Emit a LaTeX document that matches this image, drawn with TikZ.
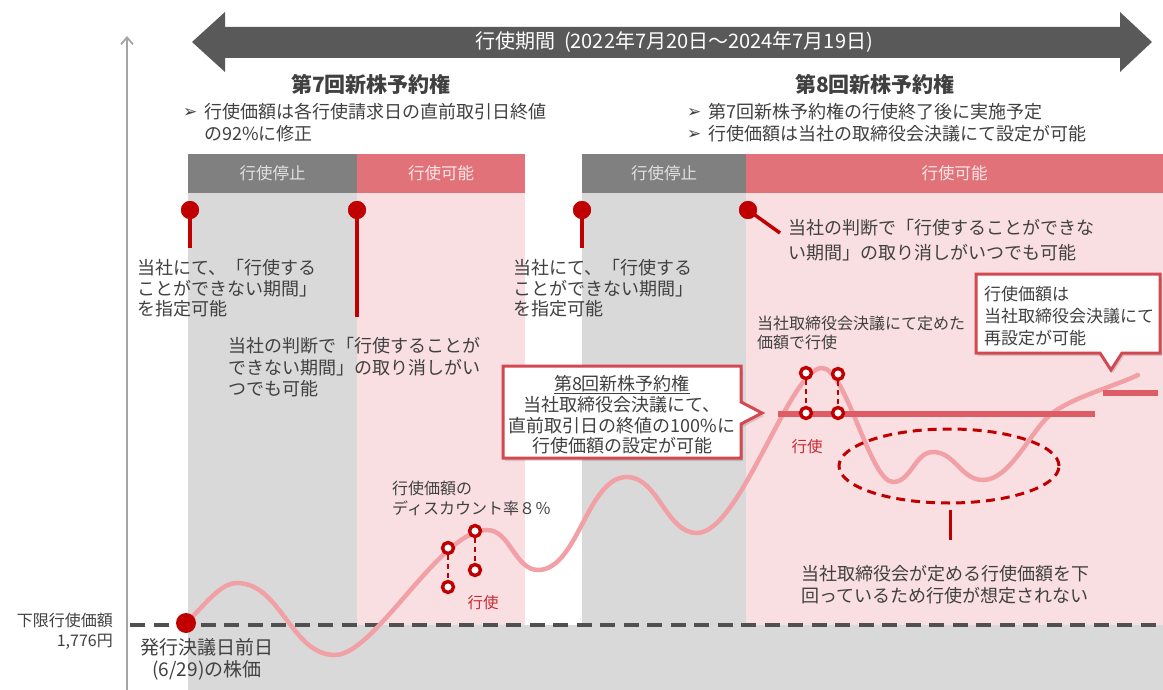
\documentclass[tikz,border=0pt]{standalone}
\usepackage{fontspec}
\setmainfont{Noto Sans CJK JP}
\newfontfamily\symfont{DejaVu Sans}
\usetikzlibrary{arrows.meta,shapes.geometric}
\definecolor{pinred}{RGB}{192,0,0}
\definecolor{callred}{RGB}{212,72,82}
\definecolor{lvlred}{RGB}{222,92,102}
\definecolor{curvec}{RGB}{241,160,166}
\definecolor{bargray}{RGB}{128,128,128}
\definecolor{barpink}{RGB}{226,114,121}
\definecolor{colgray}{RGB}{217,217,217}
\definecolor{colpink}{RGB}{249,223,225}
\definecolor{arrowc}{RGB}{89,89,89}
\definecolor{txtc}{RGB}{64,64,64}
\definecolor{dashc}{RGB}{80,80,80}
\definecolor{axisc}{RGB}{165,165,165}
\definecolor{lblred}{RGB}{200,40,50}
\begin{document}
\begin{tikzpicture}[x=1pt,y=-1pt,
 tx/.style={inner sep=0pt,text=txtc,font=\fontsize{18}{21}\selectfont,anchor=base west},
 txc/.style={tx,anchor=base},
 smalltx/.style={tx,font=\fontsize{16}{19}\selectfont},
 titletx/.style={inner sep=0pt,text=txtc,font=\fontsize{21}{24}\selectfont\bfseries,anchor=base},
 bulletmark/.style={inner sep=0pt,text=txtc,font=\symfont\fontsize{17}{18}\selectfont,anchor=west},
 barbox/.style={inner sep=0pt,minimum height=39pt,anchor=north west,font=\fontsize{16.5}{19}\selectfont},
 pinnode/.style={circle,fill=pinred,inner sep=0pt,minimum size=18pt},
 stemline/.style={pinred,line width=3.5pt},
 exnode/.style={circle,draw=pinred,fill=white,line width=3.4pt,inner sep=0pt,minimum size=11pt},
 exlink/.style={pinred,line width=2pt,dash pattern=on 5pt off 4pt},
 calloutline/.style={draw=callred,fill=white,line width=3pt,line join=miter},
 calloutshadow/.style={fill=black,opacity=0.13},
 redlabel/.style={inner sep=0pt,text=lblred,font=\fontsize{15.5}{18}\selectfont,anchor=base},
 curveline/.style={curvec,line width=4.5pt,line cap=round},
 lvlline/.style={lvlred,line width=5.5pt},
 dashline/.style={dashc,line width=4pt,dash pattern=on 15pt off 8.5pt}
]
\useasboundingbox (0,0) rectangle (1163,690);
% background columns
\fill[colgray] (188,193) rectangle (357,625);
\fill[colpink] (357,193) rectangle (525,625);
\fill[colgray] (582,193) rectangle (746,625);
\fill[colpink] (746,193) rectangle (1163,625);
\fill[colgray] (188,625) rectangle (1163,690);
% header bars
\node[barbox,fill=bargray,minimum width=169pt,text={rgb,255:red,225;green,225;blue,225}] (b1) at (188,154) {行使停止};
\node[barbox,fill=barpink,minimum width=168pt,text={rgb,255:red,252;green,230;blue,230}] (b2) at (357,154) {行使可能};
\node[barbox,fill=bargray,minimum width=164pt,text={rgb,255:red,225;green,225;blue,225}] (b3) at (582,154) {行使停止};
\node[barbox,fill=barpink,minimum width=417pt,text={rgb,255:red,252;green,230;blue,230}] (b4) at (746,154) {行使可能};
% axis
\coordinate (ax0) at (127,690);
\coordinate (ax1) at (127,36);
\draw[axisc,line width=1.8pt,-{Straight Barb[length=7pt,width=12pt]}] (ax0) -- (ax1);
% top double arrow
\fill[arrowc] (192,42) -- (225,12) -- (225,27) -- (1120,27) -- (1120,12) -- (1152,42) -- (1120,72) -- (1120,58) -- (225,58) -- (225,72) -- cycle;
\node[inner sep=0pt,text=white,font=\fontsize{20}{23}\selectfont,anchor=base] (period) at (674,49) {行使期間\ \ (2022年7月20日～2024年7月19日)};
% titles
\node[titletx] (t7) at (371,92.5) {第7回新株予約権};
\node[titletx] (t8) at (875,92.5) {第8回新株予約権};
\node[bulletmark] (m71) at (183,113) {➢};
\node[tx] (l71) at (204,119) {行使価額は各行使請求日の直前取引日終値};
\node[tx] (l72) at (204,141) {の92\%に修正};
\node[bulletmark] (m81) at (687,113) {➢};
\node[tx] (l81) at (708,119) {第7回新株予約権の行使終了後に実施予定};
\node[bulletmark] (m82) at (687,135) {➢};
\node[tx] (l82) at (708,141) {行使価額は当社の取締役会決議にて設定が可能};
% dashed floor line
\coordinate (d0) at (130,625);
\coordinate (d1) at (1163,625);
\draw[dashline] (d0) -- (d1);
% pins
\coordinate (p1e) at (190,248);
\coordinate (p2e) at (357,317);
\coordinate (p3e) at (582,248);
\coordinate (p4e) at (780,233);
\node[pinnode] (p1) at (190,210) {};
\node[pinnode] (p2) at (357,210) {};
\node[pinnode] (p3) at (582,210) {};
\node[pinnode] (p4) at (748,210) {};
\draw[stemline] (p1.center) -- (p1e);
\draw[stemline] (p2.center) -- (p2e);
\draw[stemline] (p3.center) -- (p3e);
\draw[stemline] (p4.center) -- (p4e);
\node[pinnode] at (p1) {};
\node[pinnode] at (p2) {};
\node[pinnode] at (p3) {};
\node[pinnode] at (p4) {};
% pin texts
\node[tx] (a1) at (137,274) {当社にて、「行使する};
\node[tx] (a2) at (137,295) {ことができない期間」};
\node[tx] (a3) at (137,315) {を指定可能};
\node[tx] (c1) at (228,352) {当社の判断で「行使することが};
\node[tx] (c2) at (228,374) {できない期間」の取り消しがい};
\node[tx] (c3) at (228,395) {つでも可能};
\node[tx] (e1) at (513,274) {当社にて、「行使する};
\node[tx] (e2) at (513,295) {ことができない期間」};
\node[tx] (e3) at (513,315) {を指定可能};
\node[tx] (g1) at (788,234) {当社の判断で「行使することができな};
\node[tx] (g2) at (788,259) {い期間」の取り消しがいつでも可能};
% price curve
\coordinate (s0) at (186,623);
\draw[curveline] (s0) .. controls (205,605) and (220,583) .. (237,583)
 .. controls (281,583) and (291,655) .. (335,655)
 .. controls (375,655) and (440,530) .. (487,530)
 .. controls (510,530) and (515,570) .. (538,570)
 .. controls (578,570) and (587,477) .. (627,477)
 .. controls (658,477) and (666,533) .. (697,533)
 .. controls (740,533) and (790,368) .. (822,368)
 .. controls (846,368) and (870,482) .. (893,482)
 .. controls (911,482) and (915,452) .. (933,452)
 .. controls (955,452) and (961,480) .. (983,480)
 .. controls (1010,480) and (1030,432) .. (1050,415)
 .. controls (1070,398) and (1110,388) .. (1138,375);
\node[circle,fill=pinred,inner sep=0pt,minimum size=20pt] (start) at (s0) {};
% exercise price levels
\coordinate (h0) at (778,414);
\coordinate (h1) at (1095,414);
\coordinate (k0) at (1103,393);
\coordinate (k1) at (1158,393);
\draw[lvlline] (h0) -- (h1);
\draw[lvlline] (k0) -- (k1);
% exercise circles
\node[exnode] (x1u) at (448,548) {};
\node[exnode] (x1l) at (448,587) {};
\node[exnode] (x2u) at (475,531) {};
\node[exnode] (x2l) at (475,570) {};
\draw[exlink] (x1u) -- (x1l);
\draw[exlink] (x2u) -- (x2l);
\node[exnode] (y1u) at (806,373) {};
\node[exnode] (y1l) at (806,413) {};
\node[exnode] (y2u) at (838,374) {};
\node[exnode] (y2l) at (838,413) {};
\draw[exlink] (y1u) -- (y1l);
\draw[exlink] (y2u) -- (y2l);
\node[redlabel] (r1) at (483,608) {行使};
\node[redlabel] (r2) at (807,452) {行使};
\node[smalltx] (dc1) at (392,494) {行使価額の};
\node[smalltx] (dc2) at (392,514) {ディスカウント率８％};
\node[smalltx] (pr1) at (757,329) {当社取締役会決議にて定めた};
\node[smalltx] (pr2) at (757,348) {価額で行使};
% callout 1
\fill[calloutshadow] (505,369) -- (743,369) -- (743,405) -- (764,416) -- (743,427) -- (743,461) -- (505,461) -- cycle;
\draw[calloutline] (503,366) -- (741,366) -- (741,402) -- (762,413) -- (741,424) -- (741,458) -- (503,458) -- cycle;
\node[txc] (q1) at (622,390) {\underline{第8回新株予約権}};
\node[txc] (q2) at (622,411) {当社取締役会決議にて、};
\node[txc] (q3) at (622,432) {直前取引日の終値の100\%に};
\node[txc] (q4) at (622,452) {行使価額の設定が可能};
% callout 2
\fill[calloutshadow] (978,277) -- (1162,277) -- (1162,356) -- (1124,356) -- (1113,373) -- (1102,356) -- (978,356) -- cycle;
\draw[calloutline] (976,274) -- (1160,274) -- (1160,353) -- (1122,353) -- (1111,370) -- (1100,353) -- (976,353) -- cycle;
\node[tx,font=\fontsize{17}{20}\selectfont] (w1) at (984,300) {行使価額は};
\node[tx,font=\fontsize{17}{20}\selectfont] (w2) at (984,322) {当社取締役会決議にて};
\node[tx,font=\fontsize{17}{20}\selectfont] (w3) at (984,344) {再設定が可能};
% ellipse
\node[ellipse,draw=pinred,line width=3pt,dash pattern=on 9pt off 6pt,minimum width=220pt,minimum height=74pt,inner sep=0pt] (ell) at (949,466) {};
\coordinate (el0) at (950,510);
\coordinate (el1) at (950,540);
\draw[stemline,line width=3pt] (el0) -- (el1);
\node[txc] (n1) at (945,580) {当社取締役会が定める行使価額を下};
\node[txc] (n2) at (945,602) {回っているため行使が想定されない};
% left labels
\node[tx,anchor=base east,font=\fontsize{16}{19}\selectfont] (lim1) at (113,626) {下限行使価額};
\node[tx,anchor=base east,font=\fontsize{16}{19}\selectfont] (lim2) at (113,646) {1,776円};
\node[txc,font=\fontsize{19}{22}\selectfont] (iss1) at (207,654) {発行決議日前日};
\node[txc,font=\fontsize{19}{22}\selectfont] (iss2) at (207,676) {(6/29)の株価};
\end{tikzpicture}
\end{document}
